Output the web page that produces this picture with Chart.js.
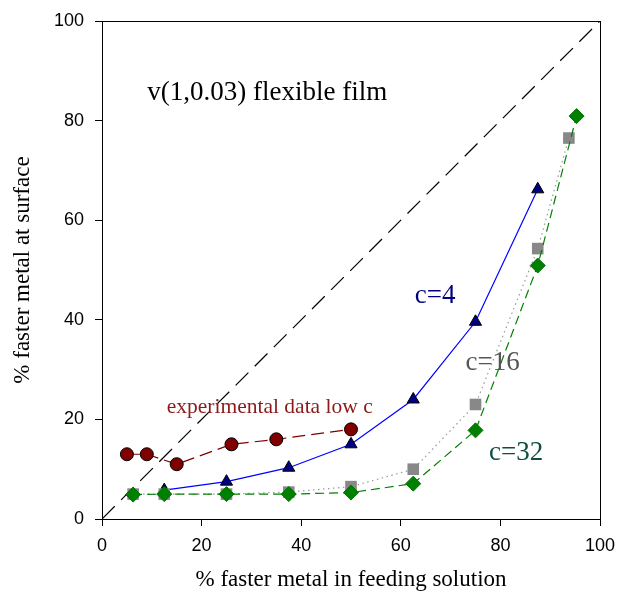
<!DOCTYPE html>
<html>
<head>
<meta charset="utf-8">
<script src="https://cdn.jsdelivr.net/npm/chart.js@4.4.1/dist/chart.umd.min.js"></script>
<style>
  html, body { margin: 0; padding: 0; background: #fff; }
  #wrap { width: 617px; height: 600px; }
</style>
</head>
<body>
<div id="wrap"><canvas id="chart" width="617" height="600"></canvas></div>
<script>
// feeding-solution composition (% faster metal) and surface composition
const expX = [5, 9, 15, 26, 35, 50];
const expY = [13, 13, 11, 15, 16, 18];

const c4X = [12.5, 25, 37.5, 50, 62.5, 75, 87.5];
const c4Y = [5.8, 7.5, 10.3, 15, 24, 39.6, 66.2];

const c16X = [6.25, 12.5, 25, 37.5, 50, 62.5, 75, 87.5, 93.75];
const c16Y = [5, 5, 5, 5.4, 6.5, 10, 23, 54.3, 76.5];

const c32X = [6.25, 12.5, 25, 37.5, 50, 62.5, 75, 87.5, 95.3];
const c32Y = [4.9, 5, 5, 5, 5.3, 7.1, 17.8, 50.9, 80.9];

const diagX = [0, 100];
const diagY = [0, 100];

const xTicks = [0, 20, 40, 60, 80, 100];
const yTicks = [0, 20, 40, 60, 80, 100];

const toPoints = (xs, ys) => xs.map((x, i) => ({ x: x, y: ys[i] }));

// text labels placed in data units (x = left edge, y = baseline)
const notes = [
    { text: 'v(1,0.03) flexible film', x: 9.1, y: 84.1, color: '#000000', size: 27 },
    { text: 'c=4', x: 62.8, y: 43.4, color: '#000080', size: 27 },
    { text: 'c=16', x: 73.0, y: 29.9, color: '#555555', size: 27 },
    { text: 'c=32', x: 77.7, y: 11.9, color: '#0b4f40', size: 27 },
    { text: 'experimental data low c', x: 13.0, y: 21.3, color: '#8b1a1a', size: 21.5 }
];

const boxAndNotes = {
    id: 'boxAndNotes',
    afterDatasetsDraw(chart) {
        const { ctx, chartArea, scales } = chart;
        ctx.save();
        ctx.strokeStyle = '#000';
        ctx.lineWidth = 1;
        ctx.strokeRect(chartArea.left + 0.5, chartArea.top + 0.5,
            chartArea.right - chartArea.left, chartArea.bottom - chartArea.top);
        ctx.textBaseline = 'alphabetic';
        ctx.textAlign = 'left';
        notes.forEach(n => {
            ctx.font = n.size + 'px "Liberation Serif", "Times New Roman", serif';
            ctx.fillStyle = n.color;
            ctx.fillText(n.text, scales.x.getPixelForValue(n.x), scales.y.getPixelForValue(n.y));
        });
        ctx.restore();
    }
};

const tickFont = { family: '"Liberation Sans", Arial, sans-serif', size: 18 };
const titleFont = { family: '"Liberation Serif", "Times New Roman", serif', size: 23 };

const ctx = document.getElementById('chart').getContext('2d');
new Chart(ctx, {
    type: 'scatter',
    data: {
        datasets: [
            {
                label: 'c=32',
                data: toPoints(c32X, c32Y),
                showLine: true,
                borderColor: '#008000',
                borderWidth: 1.2,
                borderDash: [9, 5],
                pointStyle: 'rectRot',
                pointRadius: 7.5,
                pointBackgroundColor: '#008000',
                pointBorderColor: '#007000',
                pointBorderWidth: 1
            },
            {
                label: 'c=16',
                data: toPoints(c16X, c16Y),
                showLine: true,
                borderColor: '#999999',
                borderWidth: 1.2,
                borderDash: [1.5, 3.5],
                pointStyle: 'rect',
                pointRadius: 8.2,
                pointBackgroundColor: '#888888',
                pointBorderColor: '#888888',
                pointBorderWidth: 0
            },
            {
                label: 'c=4',
                data: toPoints(c4X, c4Y),
                showLine: true,
                borderColor: '#0000ff',
                borderWidth: 1.2,
                pointStyle: 'triangle',
                pointRadius: 7,
                pointBackgroundColor: '#000080',
                pointBorderColor: '#000000',
                pointBorderWidth: 1
            },
            {
                label: 'experimental data low c',
                data: toPoints(expX, expY),
                showLine: true,
                borderColor: '#800000',
                borderWidth: 1.2,
                borderDash: [13, 6],
                pointStyle: 'circle',
                pointRadius: 6.5,
                pointBackgroundColor: '#800000',
                pointBorderColor: '#000000',
                pointBorderWidth: 1
            },
            {
                label: 'x=y',
                data: toPoints(diagX, diagY),
                showLine: true,
                borderColor: '#000000',
                borderWidth: 1.2,
                borderDash: [18, 9],
                pointRadius: 0
            }
        ]
    },
    options: {
        responsive: false,
        animation: false,
        layout: { padding: { left: 0, top: 21, right: 17, bottom: 0 } },
        plugins: {
            legend: { display: false },
            tooltip: { enabled: false }
        },
        scales: {
            x: {
                type: 'linear',
                min: 0,
                max: 100,
                afterFit: scale => {
                    scale.height = 81;
                    scale.paddingLeft = 0;
                    scale.paddingRight = 0;
                },
                afterBuildTicks: scale => { scale.ticks = xTicks.map(v => ({ value: v })); },
                grid: { drawOnChartArea: false, drawTicks: true, tickLength: 7, color: '#000' },
                border: { display: true, color: '#000' },
                ticks: { color: '#000', padding: 9, font: tickFont },
                title: {
                    display: true,
                    text: '% faster metal in feeding solution',
                    color: '#000',
                    font: titleFont,
                    padding: { top: 4, bottom: 6 }
                }
            },
            y: {
                type: 'linear',
                min: 0,
                max: 100,
                afterFit: scale => {
                    scale.width = 102;
                    scale.paddingTop = 0;
                    scale.paddingBottom = 0;
                },
                afterBuildTicks: scale => { scale.ticks = yTicks.map(v => ({ value: v })); },
                grid: { drawOnChartArea: false, drawTicks: true, tickLength: 7, color: '#000' },
                border: { display: true, color: '#000' },
                ticks: { color: '#000', padding: 11, font: tickFont },
                title: {
                    display: true,
                    text: '% faster metal at surface',
                    color: '#000',
                    font: titleFont,
                    padding: { top: 9, bottom: 4 }
                }
            }
        }
    },
    plugins: [boxAndNotes]
});
</script>
</body>
</html>
